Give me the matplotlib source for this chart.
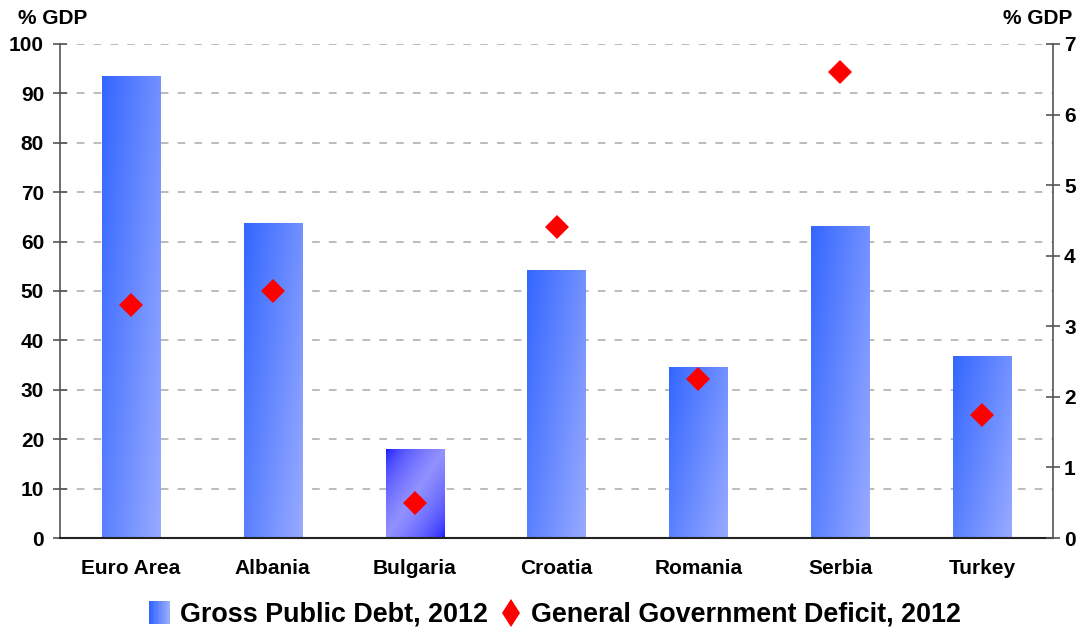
import numpy as np
import matplotlib
matplotlib.use("Agg")
import matplotlib.pyplot as plt
from matplotlib.patches import Rectangle
from matplotlib.lines import Line2D
from matplotlib.legend_handler import HandlerBase

categories = ["Euro Area", "Albania", "Bulgaria", "Croatia", "Romania", "Serbia", "Turkey"]
debt = [93.5, 63.8, 18.0, 54.3, 34.7, 63.1, 36.9]
deficit = [3.3, 3.5, 0.5, 4.4, 2.25, 6.6, 1.75]
left_ticks = list(range(0, 101, 10))
right_ticks = list(range(0, 8))
debt_label = "Gross Public Debt, 2012"
deficit_label = "General Government Deficit, 2012"
axis_label = "% GDP"

plt.rcParams['font.family'] = ['Liberation Sans', 'DejaVu Sans']
plt.rcParams['font.weight'] = 'bold'

fig = plt.figure(figsize=(10.84, 6.31), dpi=100)
ax = fig.add_axes([60/1084, 1-538/631, (1053-60)/1084, (538-44)/631])
ax2 = ax.twinx()

x = np.arange(len(categories))
bars = ax.bar(x, debt, width=0.41, color='none', edgecolor='none', zorder=2)

dark = np.array([0.20, 0.40, 1.0])
light = np.array([0.60, 0.67, 1.0])
blue = np.array([0.0, 0.0, 1.0])
lav = np.array([0.57, 0.57, 1.0])

n = 200
xf = np.linspace(0, 1, n)[None, :]
yf = np.linspace(1, 0, n)[:, None]  # image row 0 = top (origin upper)
t_norm = np.clip(0.62 * xf + 0.38 * (1 - yf), 0, 1)
img_norm = dark[None, None, :] + (light - dark)[None, None, :] * t_norm[..., None]
tb = (xf + (1 - yf)) / 2
s = np.clip(1 - np.abs(2 * tb - 1), 0, 1) ** 0.45
img_bul = blue[None, None, :] + (lav - blue)[None, None, :] * s[..., None]

for i, b in enumerate(bars):
    bx, by = b.get_x(), b.get_y()
    bw, bh = b.get_width(), b.get_height()
    img = img_bul if categories[i] == "Bulgaria" else img_norm
    im = ax.imshow(img, extent=(bx, bx + bw, by, by + bh), aspect='auto',
                   origin='upper', zorder=2, interpolation='bilinear')
    im.set_clip_path(b)

ax.set_xlim(-0.5, len(categories) - 0.5)
ax.set_ylim(0, 100)
ax.set_yticks(left_ticks)
ax.set_xticks(x)
ax.set_xticklabels(categories, fontsize=15, fontweight='bold')
ax.tick_params(axis='x', length=0, pad=15)
ax.tick_params(axis='y', direction='inout', length=10, width=1.2, color='#555555',
               labelsize=15, pad=6.5)
for lab in ax.get_yticklabels():
    lab.set_fontweight('bold')
ax.yaxis.grid(True, linestyle=(0, (5, 6)), color='#AAAAAA', linewidth=1.1)
ax.set_axisbelow(True)
ax.spines['top'].set_visible(False)
ax.spines['right'].set_visible(False)
ax.spines['left'].set_color('#555555')
ax.spines['left'].set_linewidth(1.2)
ax.spines['bottom'].set_color('#222222')
ax.spines['bottom'].set_linewidth(1.5)

ax2.plot(x, deficit, linestyle='none', marker='D', markersize=12.5,
         color='#FF0000', markeredgewidth=0, zorder=5)
ax2.set_ylim(0, 7)
ax2.set_yticks(right_ticks)
ax2.tick_params(axis='y', direction='inout', length=10, width=1.2, color='#555555',
                labelsize=15, pad=3)
for lab in ax2.get_yticklabels():
    lab.set_fontweight('bold')
for sp in ['top', 'left', 'bottom']:
    ax2.spines[sp].set_visible(False)
ax2.spines['right'].set_color('#555555')
ax2.spines['right'].set_linewidth(1.2)

fig.text(18/1084, 1-18/631, axis_label, fontsize=15, fontweight='bold',
         ha='left', va='center')
fig.text(1072/1084, 1-18/631, axis_label, fontsize=15, fontweight='bold',
         ha='right', va='center')


class GradientHandler(HandlerBase):
    def create_artists(self, legend, orig_handle, xdescent, ydescent, width,
                       height, fontsize, trans):
        side = min(width, height * 1.6)
        x0 = xdescent + (width - side * 0.85) / 2
        w = side * 0.85
        h = height * 1.2
        y0 = -ydescent + (height - h) / 2
        k = 12
        arts = []
        for j in range(k):
            c = dark + (light - dark) * (j / (k - 1))
            r = Rectangle((x0 + w * j / k, y0), w / k + 0.3, h, facecolor=c,
                          edgecolor='none', transform=trans)
            arts.append(r)
        return arts


bar_handle = Rectangle((0, 0), 1, 1)
dia_handle = Line2D([], [], linestyle='none', marker='d', markersize=14.5,
                    color='#FF0000', markeredgewidth=0)
leg = fig.legend([bar_handle, dia_handle], [debt_label, deficit_label],
                 handler_map={Rectangle: GradientHandler()},
                 loc='center', bbox_to_anchor=(554/1084, 1-615/631), ncol=2,
                 frameon=False, prop={'size': 19.4, 'weight': 'bold'},
                 handlelength=0.9, handletextpad=0.3, columnspacing=0.4)

fig.savefig("out.png", dpi=100)
